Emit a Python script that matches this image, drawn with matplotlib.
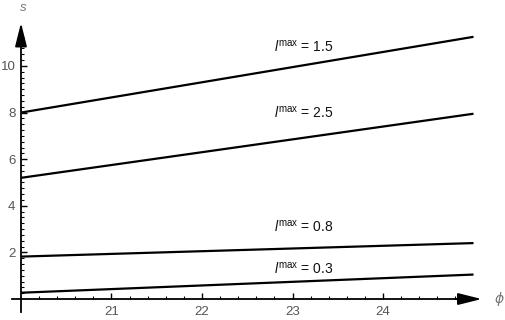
import matplotlib
matplotlib.use("Agg")
import matplotlib.pyplot as plt
import numpy as np
from matplotlib.ticker import FixedLocator

plt.rcParams['font.family'] = ['Liberation Sans', 'DejaVu Sans']
plt.rcParams['mathtext.fontset'] = 'custom'
plt.rcParams['mathtext.rm'] = 'Liberation Sans'
plt.rcParams['mathtext.it'] = 'Liberation Sans:italic'

# Data (straight lines, endpoints)
phi = [20.0, 25.0]
series_labels = ["1.5", "2.5", "0.8", "0.3"]
s_l15 = [8.0, 11.25]
s_l25 = [5.2, 7.95]
s_l08 = [1.82, 2.40]
s_l03 = [0.27, 1.05]
x_ticks = [21, 22, 23, 24]
y_ticks = [2, 4, 6, 8, 10]

fig = plt.figure(figsize=(5.05, 3.2), dpi=100)
ax = fig.add_axes([0, 0, 1, 1])
ax.set_xlim(19.768, 25.348)
ax.set_ylim(-0.90, 12.83)

for ys in (s_l15, s_l25, s_l08, s_l03):
    ax.plot(phi, ys, color='black', lw=1.6, solid_capstyle='butt')

# label annotations
label_pos = [(22.80, 10.85), (22.80, 8.0), (22.80, 3.1), (22.80, 1.3)]
for lab, (xx, yy) in zip(series_labels, label_pos):
    ax.text(xx, yy, r"$l^{\mathrm{max}}$" + " = " + lab, fontsize=10, color='#111111',
            ha='left', va='center')

# axes as arrows
for side in ('top', 'right'):
    ax.spines[side].set_visible(False)
ax.spines['left'].set_position(('data', 20))
ax.spines['bottom'].set_position(('data', 0))
ax.spines['left'].set_bounds(-0.55, 11.3)
ax.spines['bottom'].set_bounds(19.9, 24.95)
ax.spines['left'].set_linewidth(1.3)
ax.spines['bottom'].set_linewidth(1.3)

arrow_style = '-|>,head_length=1.44,head_width=0.36'
ax.annotate('', xy=(20, 11.85), xytext=(20, 11.0),
            arrowprops=dict(arrowstyle=arrow_style, color='black', lw=1.3,
                            mutation_scale=10, shrinkA=0, shrinkB=0))
ax.annotate('', xy=(25.09, 0), xytext=(24.8, 0),
            arrowprops=dict(arrowstyle=arrow_style, color='black', lw=1.3,
                            mutation_scale=10, shrinkA=0, shrinkB=0))

ax.xaxis.set_major_locator(FixedLocator(x_ticks))
ax.yaxis.set_major_locator(FixedLocator(y_ticks))
ax.xaxis.set_minor_locator(FixedLocator([x for x in np.arange(20.2, 25.0, 0.2)
                                         if abs(x - round(x)) > 1e-6]))
ax.yaxis.set_minor_locator(FixedLocator([y for y in np.arange(0.25, 11.3, 0.25)
                                         if abs(y / 2 - round(y / 2)) > 1e-6]))
ax.tick_params(which='major', direction='in', length=4, width=1.0, color='black',
               labelsize=9.5, labelcolor='#555555')
ax.tick_params(which='minor', direction='in', length=2.5, width=0.8, color='black')
ax.tick_params(axis='x', pad=5)
ax.tick_params(axis='y', pad=4)

ax.text(20.02, 12.5, 's', fontsize=9.5, style='italic', color='#777777', ha='center', va='center')
ax.text(25.28, 0.0, 'ϕ', fontsize=10, style='italic', color='#777777', ha='center', va='center',
        family=['DejaVu Sans'])

fig.savefig('out.png', dpi=100)
